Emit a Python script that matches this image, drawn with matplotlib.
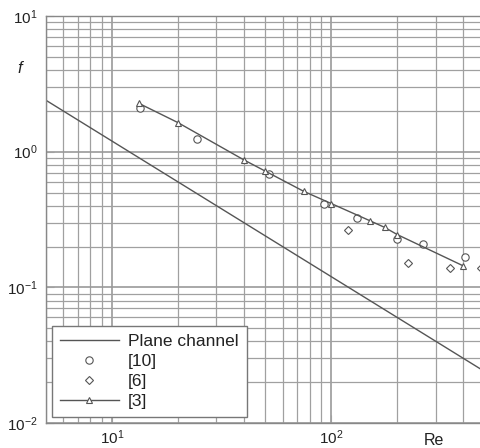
import matplotlib
matplotlib.use("Agg")
import matplotlib.pyplot as plt

plt.rcParams['font.family'] = ['Liberation Sans', 'DejaVu Sans']

# Plane channel (laminar) line, end points
plane_re = [5, 500]
plane_f = [2.4, 0.024]

# Ref [10] - open circles
ref10_re = [13.4, 24.4, 52, 93, 131, 200, 262, 406]
ref10_f = [2.11, 1.25, 0.68, 0.415, 0.323, 0.228, 0.208, 0.168]

# Ref [6] - open diamonds
ref6_re = [119, 224, 347, 480]
ref6_f = [0.265, 0.151, 0.138, 0.14]

# Ref [3] - triangles joined by a line
ref3_re = [13.3, 20, 40, 50, 75, 100, 150, 175, 200, 400]
ref3_f = [2.27, 1.64, 0.87, 0.72, 0.51, 0.415, 0.31, 0.277, 0.245, 0.144]

line_col = '#555555'
grid_col = '#a0a0a0'
text_col = '#222222'

fig = plt.figure(figsize=(4.8, 4.48), dpi=100)
# axes run past the right edge, like the cropped original
ax = fig.add_axes([0.0952, 0.0556, 0.9144, 0.9087])

ax.plot(plane_re, plane_f, color=line_col, lw=1.0, label='Plane channel')
ax.plot(ref10_re, ref10_f, ls='none', marker='o', ms=5.3, mfc='white',
        mec=line_col, mew=0.8, label='[10]')
ax.plot(ref6_re, ref6_f, ls='none', marker='D', ms=4.4, mfc='white',
        mec=line_col, mew=0.8, label='[6]')
ax.plot(ref3_re, ref3_f, color=line_col, lw=1.0, marker='^', ms=4.7,
        mfc='white', mec=line_col, mew=0.8, label='[3]')

ax.set_xscale('log')
ax.set_yscale('log')
ax.set_xlim(5, 500)
ax.set_ylim(0.01, 10)

ax.grid(True, which='major', color='#999999', lw=1.2)
ax.grid(True, which='minor', color=grid_col, lw=0.9)
ax.set_axisbelow(True)

ax.tick_params(which='both', direction='in', colors=grid_col,
               labelcolor=text_col, labelsize=11)
ax.tick_params(which='major', length=6, pad=6)
ax.tick_params(which='minor', length=4)
ax.tick_params(axis='x', pad=4)
for s in ax.spines.values():
    s.set_color('#888888')
    s.set_linewidth(1.0)

# axis labels placed as in the original
ax.text(-0.058, 0.87, 'f', transform=ax.transAxes, fontsize=12,
        style='italic', color=text_col, ha='center', va='center')
ax.text(0.885, -0.042, 'Re', transform=ax.transAxes, fontsize=11.5,
        color=text_col, ha='center', va='center')

leg = ax.legend(loc='lower left', bbox_to_anchor=(0.0137, 0.015),
                borderaxespad=0, fontsize=12.5, frameon=True, fancybox=False,
                edgecolor='#777777', framealpha=1, handlelength=3.4,
                handletextpad=0.55, labelspacing=0.28, borderpad=0.45)
leg.get_frame().set_linewidth(1.0)
for t in leg.get_texts():
    t.set_color(text_col)

fig.savefig('out.png', dpi=100)
